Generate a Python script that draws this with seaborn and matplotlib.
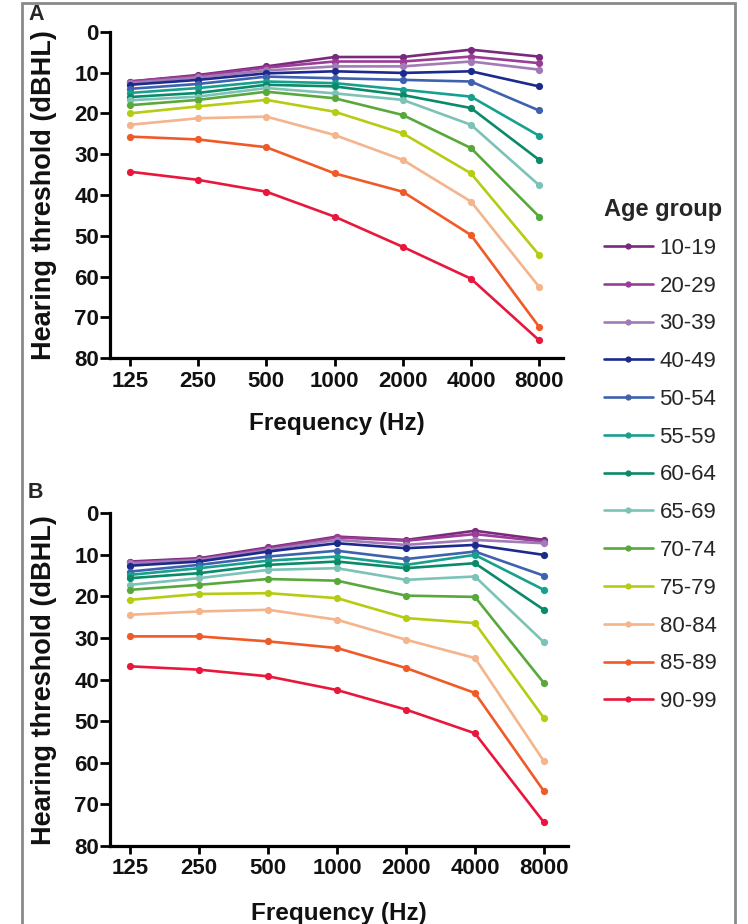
import numpy as np
import pandas as pd
import matplotlib
matplotlib.use("Agg")
import matplotlib.pyplot as plt
from matplotlib.lines import Line2D
from matplotlib.patches import Rectangle
import seaborn as sns

sns.set_style("ticks")
plt.rcParams['font.family'] = ['Liberation Sans', 'DejaVu Sans']

frequencies = [125, 250, 500, 1000, 2000, 4000, 8000]
freq_labels = ["125", "250", "500", "1000", "2000", "4000", "8000"]
age_groups = ["10-19", "20-29", "30-39", "40-49", "50-54", "55-59", "60-64",
              "65-69", "70-74", "75-79", "80-84", "85-89", "90-99"]
colors = ["#7a2a7c", "#9a3d96", "#a27ab6", "#1c2a8c", "#3e62ae", "#17a08e",
          "#0a8a68", "#7cc2b6", "#58a83c", "#b6cc12", "#f4b48c", "#f05a28", "#e8183c"]

# Panel A thresholds (dBHL), one list per age group
a_10_19 = [12.2, 10.6, 8.5, 6.2, 6.2, 4.4, 6.1]
a_20_29 = [12.2, 10.8, 8.8, 7.3, 7.3, 6.1, 7.7]
a_30_39 = [12.5, 11.2, 9.5, 8.5, 8.5, 7.3, 9.3]
a_40_49 = [13.0, 11.8, 10.2, 9.7, 10.1, 9.7, 13.4]
a_50_54 = [14.0, 12.8, 11.0, 11.4, 11.8, 12.2, 19.3]
a_55_59 = [15.0, 13.8, 12.2, 12.6, 14.2, 15.9, 25.5]
a_60_64 = [16.0, 15.0, 13.0, 13.4, 15.5, 18.7, 31.4]
a_65_69 = [16.8, 15.9, 13.8, 15.1, 16.7, 22.8, 37.6]
a_70_74 = [18.0, 16.7, 14.7, 16.3, 20.4, 28.5, 45.3]
a_75_79 = [20.0, 18.3, 16.7, 19.6, 24.9, 34.7, 54.7]
a_80_84 = [22.8, 21.2, 20.8, 25.3, 31.4, 41.6, 62.5]
a_85_89 = [25.7, 26.4, 28.3, 34.7, 39.2, 49.8, 72.3]
a_90_99 = [34.3, 36.3, 39.2, 45.3, 52.7, 60.5, 75.6]

# Panel B thresholds (dBHL)
b_10_19 = [11.6, 10.8, 8.2, 5.6, 6.4, 4.2, 6.4]
b_20_29 = [11.8, 11.0, 8.4, 5.8, 6.6, 5.0, 6.8]
b_30_39 = [12.0, 11.2, 8.8, 6.4, 7.6, 6.4, 7.2]
b_40_49 = [12.6, 11.6, 9.2, 7.2, 8.4, 7.6, 10.0]
b_50_54 = [14.0, 12.4, 10.4, 9.0, 11.0, 9.2, 15.0]
b_55_59 = [14.8, 13.2, 11.4, 10.4, 12.4, 10.0, 18.4]
b_60_64 = [15.6, 14.4, 12.4, 11.6, 13.2, 12.0, 23.2]
b_65_69 = [17.2, 15.6, 13.6, 13.2, 16.0, 15.2, 31.0]
b_70_74 = [18.4, 17.2, 15.8, 16.2, 19.8, 20.1, 40.8]
b_75_79 = [20.8, 19.4, 19.2, 20.4, 25.2, 26.4, 49.2]
b_80_84 = [24.4, 23.6, 23.2, 25.6, 30.4, 34.8, 59.6]
b_85_89 = [29.6, 29.6, 30.8, 32.4, 37.2, 43.2, 66.8]
b_90_99 = [36.8, 37.6, 39.2, 42.5, 47.2, 52.9, 74.3]

panel_a = [a_10_19, a_20_29, a_30_39, a_40_49, a_50_54, a_55_59, a_60_64,
           a_65_69, a_70_74, a_75_79, a_80_84, a_85_89, a_90_99]
panel_b = [b_10_19, b_20_29, b_30_39, b_40_49, b_50_54, b_55_59, b_60_64,
           b_65_69, b_70_74, b_75_79, b_80_84, b_85_89, b_90_99]


def to_long(panel):
    rows = []
    for grp, vals in zip(age_groups, panel):
        for f, v in zip(frequencies, vals):
            rows.append({"freq": f, "thr": v, "age": grp})
    return pd.DataFrame(rows)


palette = dict(zip(age_groups, colors))

W, H = 748, 924
fig = plt.figure(figsize=(W / 100, H / 100), dpi=100)

# axes rectangles in pixels: left, top, right, bottom
rects = [(110, 31.7, 563, 358.3), (110, 513.3, 568, 846)]
panels = [panel_a, panel_b]
letters = ["A", "B"]
letter_y = [15, 493]
xlabel_off = [54, 56]

for (l, t, r, b), panel, letter, ly, xo in zip(rects, panels, letters, letter_y, xlabel_off):
    ax = fig.add_axes([l / W, 1 - b / H, (r - l) / W, (b - t) / H])
    df = to_long(panel)
    sns.lineplot(data=df, x="freq", y="thr", hue="age", hue_order=age_groups,
                 palette=palette, marker="o", markersize=5.2, markeredgewidth=0,
                 linewidth=1.9, legend=False, sort=False, ax=ax)
    ax.set_xscale("log", base=2)
    ax.set_xlim(125 * 2 ** -0.293, 125 * 2 ** 6.35)
    ax.set_ylim(80, 0)
    ax.set_xticks(frequencies)
    ax.set_xticklabels(freq_labels)
    ax.xaxis.set_minor_locator(matplotlib.ticker.NullLocator())
    ax.set_yticks(range(0, 81, 10))
    ax.set_yticklabels([str(v) for v in range(0, 81, 10)])
    for s in ["top", "right"]:
        ax.spines[s].set_visible(False)
    for s in ["left", "bottom"]:
        ax.spines[s].set_linewidth(2.3)
        ax.spines[s].set_color("black")
    ax.tick_params(axis="both", direction="out", width=2, color="black",
                   labelsize=16, labelcolor="#111111")
    ax.tick_params(axis="y", pad=0.5, length=7.5)
    ax.tick_params(axis="x", pad=3, length=6)
    for lab in ax.get_xticklabels() + ax.get_yticklabels():
        lab.set_fontweight("bold")
    ax.set_xlabel("Frequency (Hz)", fontsize=17.5, fontweight="bold", color="#111111")
    ax.set_ylabel("Hearing threshold (dBHL)", fontsize=19.5, fontweight="bold", color="#111111")
    ax.xaxis.set_label_coords(0.5, -xo / (b - t))
    ax.yaxis.set_label_coords(-53 / (r - l), 0.5)
    ax.set_facecolor("none")
    fig.text(28 / W, 1 - ly / H, letter, fontsize=15.5, fontweight="bold",
             ha="left", va="center")

handles = [Line2D([0], [0], color=c, lw=1.9, marker="o", markersize=4.5,
                  markeredgewidth=0) for c in colors]
leg = fig.legend(handles, age_groups, loc="upper left",
                 bbox_to_anchor=(604 / W, 1 - 198 / H), frameon=False,
                 title="Age group", alignment="left",
                 title_fontproperties={"weight": "bold", "size": 17},
                 fontsize=16, handlelength=2.2, handletextpad=0.3,
                 labelspacing=0.755, borderpad=0, borderaxespad=0)

fig.patches.append(Rectangle((22 / W, -0.05), (735 - 22) / W, 1.05 - 3 / H,
                             transform=fig.transFigure, fill=False,
                             edgecolor="#8a8a8a", linewidth=2, zorder=0))

fig.savefig("out.png", dpi=100, facecolor="white")
